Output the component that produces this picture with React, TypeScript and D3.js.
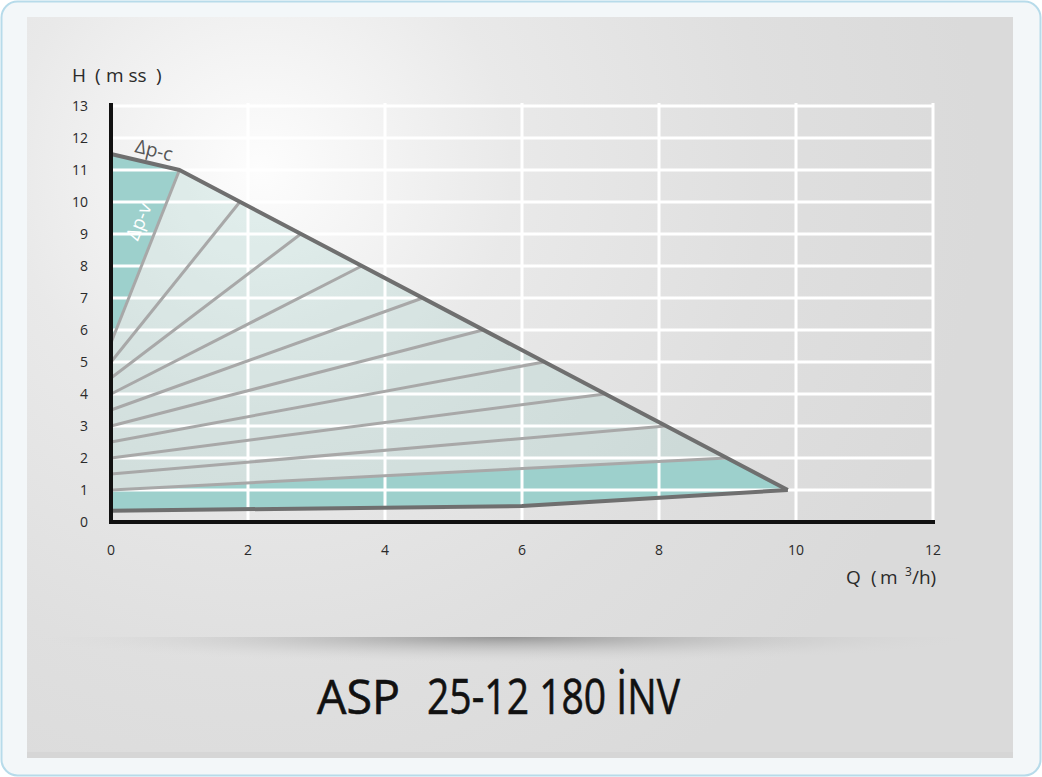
import React from "react";
import * as d3 from "d3";

const xTicks = [0, 2, 4, 6, 8, 10, 12];
const yTicks = [0, 1, 2, 3, 4, 5, 6, 7, 8, 9, 10, 11, 12, 13];
const xGrid = [2, 4, 6, 8, 10, 12];
const yGrid = [1, 2, 3, 4, 5, 6, 7, 8, 9, 10, 11, 12, 13];

// Δp-c maximum curve
const envelopeQ = [0, 1, 9.88];
const envelopeH = [11.5, 11, 1];
// minimum curve
const minCurveQ = [0, 6, 9.88];
const minCurveH = [0.35, 0.5, 1];
// Δp-v family (start at Q=0, end on envelope)
const dpvStartH = [1, 1.5, 2, 2.5, 3, 3.5, 4, 4.5, 5, 5.6];
const dpvEndQ = [8.99, 8.1, 7.21, 6.32, 5.43, 4.55, 3.66, 2.77, 1.88, 1];
const dpvEndH = [2, 3, 4, 5, 6, 7, 8, 9, 10, 11];

export default function App() {
  const x = d3.scaleLinear().domain([0, 12]).range([111, 933]);
  const y = d3.scaleLinear().domain([0, 13]).range([522, 106]);
  const line = d3
    .line<[number, number]>()
    .x((d) => x(d[0]))
    .y((d) => y(d[1]));

  const env: [number, number][] = envelopeQ.map((q, i) => [q, envelopeH[i]]);
  const minC: [number, number][] = minCurveQ.map((q, i) => [q, minCurveH[i]]);
  const region: [number, number][] = [...env, ...minC.slice().reverse()];

  const last = dpvStartH.length - 1;
  const topTeal: [number, number][] = [
    [0, envelopeH[0]],
    [envelopeQ[1], envelopeH[1]],
    [0, dpvStartH[last]],
  ];
  const bottomTeal: [number, number][] = [
    [0, dpvStartH[0]],
    [dpvEndQ[0], dpvEndH[0]],
    ...minC.slice().reverse(),
  ];

  const tickFont = "'Open Sans', 'DejaVu Sans', sans-serif";

  return (
    <svg
      width={1042}
      height={777}
      style={{ position: "absolute", left: 0, top: 0, display: "block" }}
    >
      <defs>
        <radialGradient id="bg" cx="260" cy="170" r="720" gradientUnits="userSpaceOnUse">
          <stop offset="0" stopColor="#fdfdfd" />
          <stop offset="0.35" stopColor="#e9e9e9" />
          <stop offset="0.7" stopColor="#dfdfdf" />
          <stop offset="1" stopColor="#dadada" />
        </radialGradient>
        <radialGradient id="shadow" cx="0.5" cy="0.5" r="0.5" fx="0.5" fy="0.5">
          <stop offset="0" stopColor="#8e8e8e" stopOpacity="0.9" />
          <stop offset="0.45" stopColor="#b0b0b0" stopOpacity="0.5" />
          <stop offset="1" stopColor="#d8d8d8" stopOpacity="0" />
        </radialGradient>
        <clipPath id="below">
          <rect x={27} y={637} width={986} height={60} />
        </clipPath>
      </defs>

      <rect x={1.5} y={1.5} width={1039} height={774} rx={16} fill="#f3f7f9" stroke="#b7dbea" strokeWidth={2} />
      <rect x={27} y={17} width={986} height={741} fill="url(#bg)" />
      <rect x={27} y={752} width={986} height={6} fill="#d6d6d6" />

      {/* shelf shadow */}
      <ellipse cx={505} cy={637} rx={470} ry={26} fill="url(#shadow)" clipPath="url(#below)" />

      {/* fills */}
      <path d={line(region) + "Z"} fill="#a6cfcb" fillOpacity={0.3} />
      <path d={line(topTeal) + "Z"} fill="#9dd0cc" />
      <path d={line(bottomTeal) + "Z"} fill="#9dd0cc" />

      {/* grid */}
      {yGrid.map((v) => (
        <line key={"gy" + v} x1={x(0)} x2={x(12)} y1={y(v)} y2={y(v)} stroke="#ffffff" strokeWidth={3} />
      ))}
      {xGrid.map((v) => (
        <line key={"gx" + v} x1={x(v)} x2={x(v)} y1={y(13) - 3} y2={y(0)} stroke="#ffffff" strokeWidth={3} />
      ))}

      {/* Δp-v family */}
      {dpvStartH.map((h, i) => (
        <path
          key={"dpv" + i}
          d={line([
            [0, h],
            [dpvEndQ[i], dpvEndH[i]],
          ]) as string}
          fill="none"
          stroke="#a8a8a8"
          strokeWidth={3}
        />
      ))}

      {/* curves */}
      <path d={line(env) as string} fill="none" stroke="#6f6f6f" strokeWidth={4} strokeLinejoin="round" />
      <path d={line(minC) as string} fill="none" stroke="#6f6f6f" strokeWidth={4} strokeLinejoin="round" />

      {/* axes */}
      <line x1={x(0)} x2={x(0)} y1={y(13) - 3} y2={y(0) + 2} stroke="#111" strokeWidth={4} />
      <line x1={x(0) - 2} x2={x(12) + 2} y1={y(0)} y2={y(0)} stroke="#111" strokeWidth={4} />

      {/* tick labels */}
      {yTicks.map((v) => (
        <text key={"ty" + v} x={88} y={y(v)} dy="0.35em" textAnchor="end" fontFamily={tickFont} fontSize={14} fill="#2a2a2a">
          {v}
        </text>
      ))}
      {xTicks.map((v) => (
        <text key={"tx" + v} x={x(v)} y={550} dy="0.35em" textAnchor="middle" fontFamily={tickFont} fontSize={14} fill="#2a2a2a">
          {v}
        </text>
      ))}

      {/* axis titles */}
      <text y={82} fontFamily={tickFont} fontSize={19} fill="#2a2a2a">
        <tspan x={72}>H</tspan>
        <tspan x={95}>(</tspan>
        <tspan x={106}>m ss</tspan>
        <tspan x={156}>)</tspan>
      </text>
      <text y={584} fontFamily={tickFont} fontSize={19} fill="#2a2a2a">
        <tspan x={846}>Q</tspan>
        <tspan x={871}>(</tspan>
        <tspan x={880}>m</tspan>
        <tspan x={905} dy={-8} fontSize={12}>3</tspan>
        <tspan x={912} dy={8}>/h)</tspan>
      </text>

      {/* curve labels */}
      <text
        x={134}
        y={152}
        transform="rotate(14 134 152)"
        fontFamily={tickFont}
        fontSize={19}
        fill="#555"
      >
        Δp-c
      </text>
      <text
        x={145}
        y={224}
        transform="rotate(-68 145 224)"
        textAnchor="middle"
        fontFamily={tickFont}
        fontSize={19}
        fill="#ffffff"
      >
        Δp-v
      </text>

      {/* title */}
      <text x={317} y={714} fontFamily={tickFont} fontSize={47} fill="#111" stroke="#111" strokeWidth={0.6}
        textLength={83} lengthAdjust="spacingAndGlyphs">
        ASP
      </text>
      <text
        x={427}
        y={714}
        fontFamily={tickFont}
        fontSize={50}
        fill="#111"
        stroke="#111"
        strokeWidth={0.6}
        textLength={253}
        lengthAdjust="spacingAndGlyphs"
      >
        25-12 180 İNV
      </text>
    </svg>
  );
}
